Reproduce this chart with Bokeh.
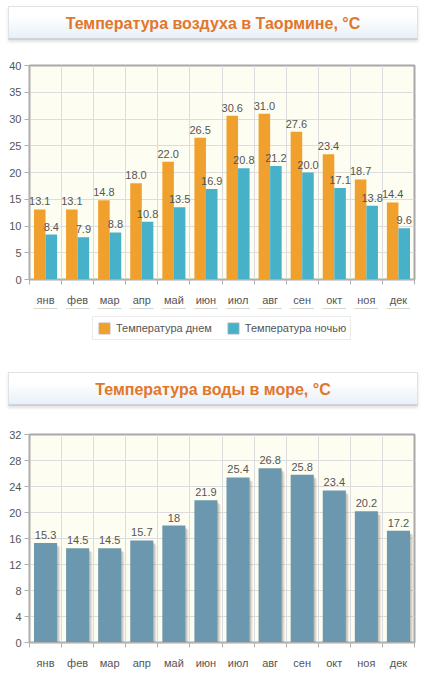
from bokeh.plotting import figure
from bokeh.models import (FixedTicker, Legend, LegendItem, ColumnDataSource, Div,
                          Range1d)
from bokeh.layouts import column
from bokeh.embed import file_html
from bokeh.resources import INLINE
from bokeh.core.properties import value

# Monthly climate data for Taormina
months = ["янв", "фев", "мар", "апр", "май", "июн",
          "июл", "авг", "сен", "окт", "ноя", "дек"]
air_day = [13.1, 13.1, 14.8, 18.0, 22.0, 26.5, 30.6, 31.0, 27.6, 23.4, 18.7, 14.4]
air_night = [8.4, 7.9, 8.8, 10.8, 13.5, 16.9, 20.8, 21.2, 20.0, 17.1, 13.8, 9.6]
sea_temp = [15.3, 14.5, 14.5, 15.7, 18, 21.9, 25.4, 26.8, 25.8, 23.4, 20.2, 17.2]
air_ticks = [0, 5, 10, 15, 20, 25, 30, 35, 40]
sea_ticks = [0, 4, 8, 12, 16, 20, 24, 28, 32]
series_names = ["Температура днем", "Температура ночью"]

FONT = "Liberation Sans"
TEXT_COLOR = "#555555"
DAY_COLOR = "#f0a02c"
NIGHT_COLOR = "#46b1c9"
SEA_COLOR = "#6b98ae"


def title_box(text, top):
    html = (
        '<div style="width:410px;height:34px;line-height:34px;text-align:center;'
        'border:1px solid #e2e2e2;border-bottom:2px solid #cfd3d8;'
        'background:linear-gradient(#ffffff 30%,#e8f0f8);'
        'box-shadow:0 2px 3px rgba(0,0,0,0.12);'
        f'font-family:{FONT},Arial,sans-serif;font-weight:bold;font-size:16px;'
        f'color:#e2762a;">{text}</div>'
    )
    return Div(text=html, width=412, height=37, margin=(top, 0, 0, 8))


def base_chart(ticks, height, border_top, border_bottom):
    n = len(months)
    p = figure(width=424, height=height, output_backend="svg",
               toolbar_location=None, x_range=Range1d(0, n),
               y_range=Range1d(ticks[0], ticks[-1]),
               min_border_left=29, min_border_right=10,
               min_border_top=border_top, min_border_bottom=border_bottom)
    p.background_fill_color = "#fefdf2"
    p.border_fill_color = "white"
    p.outline_line_color = "#a8a8a8"
    p.outline_line_width = 2

    # month labels centred in each slot, tick marks on slot boundaries
    xa = p.xaxis[0]
    xa.ticker = FixedTicker(ticks=[i + 0.5 for i in range(n)],
                            minor_ticks=list(range(n + 1)))
    xa.major_label_overrides = {i + 0.5: m for i, m in enumerate(months)}
    xa.major_tick_line_color = None
    xa.minor_tick_out = 5
    xa.minor_tick_in = 0
    xa.minor_tick_line_color = "#b0b0b0"
    xa.axis_line_color = "#b0b0b0"
    xa.major_label_standoff = 8
    xa.major_label_text_font = FONT
    xa.major_label_text_font_size = "11px"
    xa.major_label_text_color = TEXT_COLOR

    ya = p.yaxis[0]
    ya.ticker = FixedTicker(ticks=ticks)
    ya.minor_tick_line_color = None
    ya.major_tick_out = 5
    ya.major_tick_in = 0
    ya.major_tick_line_color = "#b0b0b0"
    ya.axis_line_color = "#b0b0b0"
    ya.major_label_standoff = 3
    ya.major_label_text_font = FONT
    ya.major_label_text_font_size = "11px"
    ya.major_label_text_color = TEXT_COLOR

    p.xgrid.grid_line_color = None
    p.xgrid.minor_grid_line_color = "#dcdcdc"
    p.ygrid.grid_line_color = "#dcdcdc"
    return p


def value_labels(p, xs, vals, fmt):
    src = ColumnDataSource(dict(x=xs, y=vals, t=[fmt(v) for v in vals]))
    p.text("x", "y", text="t", source=src, text_align="center",
           text_baseline="bottom", y_offset=-4, text_font=value(FONT),
           text_font_size="11px", text_color=TEXT_COLOR)


# --- air temperature chart ---
p1 = base_chart(air_ticks, 265, 22, 28)
xs_day = [i + 0.5 - 0.18 for i in range(len(months))]
xs_night = [i + 0.5 + 0.18 for i in range(len(months))]
p1.vbar(x=xs_day, top=air_day, bottom=0, width=0.36,
        fill_color=DAY_COLOR, line_color=None)
p1.vbar(x=xs_night, top=air_night, bottom=0, width=0.36,
        fill_color=NIGHT_COLOR, line_color=None)
value_labels(p1, xs_day, air_day, lambda v: f"{v:.1f}")
value_labels(p1, xs_night, air_night, lambda v: f"{v:.1f}")

# --- legend strip for the air chart ---
# the series are repeated here only to feed the legend swatches; the
# y range lies below zero so the bars themselves stay out of view
leg_fig = figure(width=424, height=38, output_backend="svg", toolbar_location=None,
                 x_range=Range1d(0, len(months)), y_range=Range1d(-2, -1),
                 x_axis_location=None, y_axis_location=None, min_border=0)
leg_fig.outline_line_color = None
leg_fig.grid.visible = False
leg_fig.background_fill_color = "white"
swatches = []
for xs, vals, col in ((xs_day, air_day, DAY_COLOR), (xs_night, air_night, NIGHT_COLOR)):
    swatches.append(leg_fig.vbar(x=xs, top=vals, bottom=0, width=0.36,
                                 fill_color=col, line_color="#b8b8b8",
                                 line_alpha=0.7))
legend = Legend(items=[LegendItem(label=name, renderers=[r])
                       for name, r in zip(series_names, swatches)],
                orientation="horizontal", location=(63, 6))
legend.label_text_font = FONT
legend.label_text_font_size = "11px"
legend.label_text_color = TEXT_COLOR
legend.glyph_width = 14
legend.glyph_height = 14
legend.spacing = 14
legend.padding = 4
legend.margin = 0
legend.border_line_color = "#d8d8d8"
legend.label_standoff = 5
leg_fig.add_layout(legend, "center")

# --- sea temperature chart ---
p2 = base_chart(sea_ticks, 262, 25, 0)
xs_sea = [i + 0.5 for i in range(len(months))]
# soft drop shadow behind each bar
for k, a in enumerate([0.10, 0.12, 0.16]):
    p2.vbar(x=[x + 0.04 + 0.03 * (2 - k) for x in xs_sea],
            top=[v - 0.35 - 0.15 * (2 - k) for v in sea_temp], bottom=0,
            width=0.72, fill_color="#555555", fill_alpha=a, line_color=None)
p2.vbar(x=xs_sea, top=sea_temp, bottom=0, width=0.72,
        fill_color=SEA_COLOR, line_color=None)
value_labels(p2, xs_sea, sea_temp, lambda v: f"{v:g}")

layout = column(title_box("Температура воздуха в Таормине, °C", 6), p1, leg_fig,
                title_box("Температура воды в море, °C", 26), p2,
                spacing=0)

open("out.html", "w").write(file_html(layout, INLINE))
